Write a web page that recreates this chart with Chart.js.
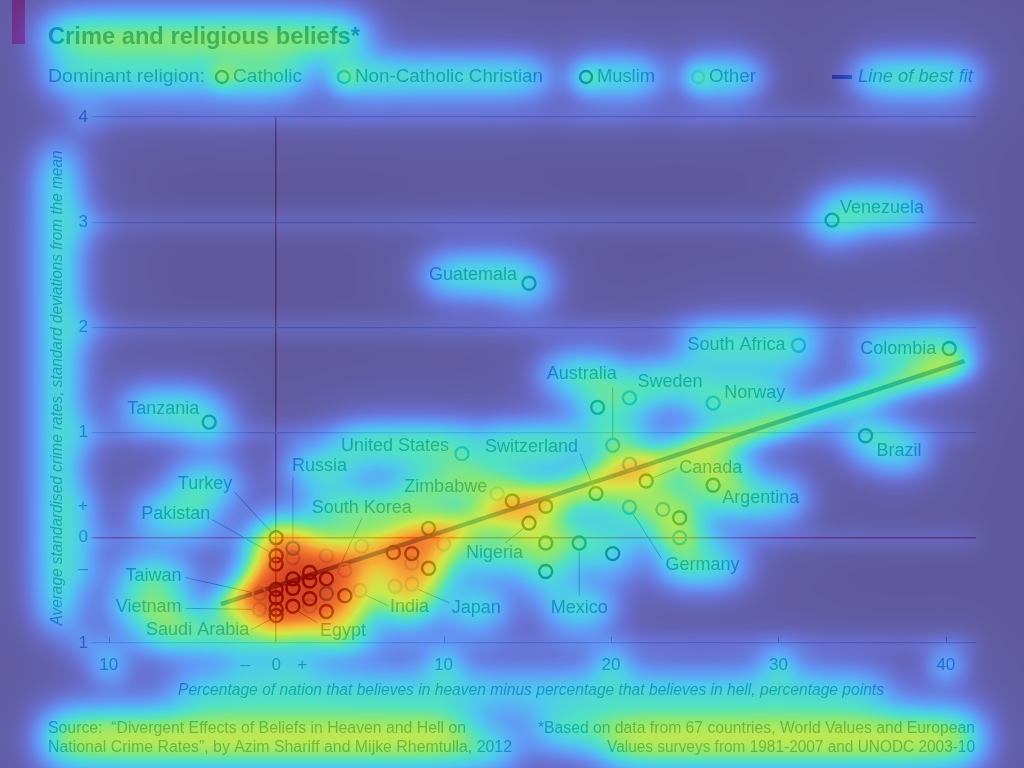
<!DOCTYPE html>
<html><head><meta charset="utf-8">
<script src="https://cdn.jsdelivr.net/npm/chart.js@4/dist/chart.umd.min.js"></script>
<style>html,body{margin:0;padding:0;background:#615a9d;}canvas{display:block}</style>
</head><body>
<canvas id="c" width="1024" height="768"></canvas>
<script>
// ---------------- DATA ----------------
const names = ['Venezuela','Guatemala','South Africa','Colombia','Tanzania','Australia','Sweden','Norway','Brazil','United States','Switzerland','Canada','Argentina','Zimbabwe','Turkey','Pakistan','Russia','South Korea','Taiwan','Vietnam','Saudi Arabia','Egypt','India','Japan','Nigeria','Germany','Mexico',
 '','','','','','','','','','','','','','','','','',
 '','','','','','','','','','','','','','','','',''];
const heavenMinusHell = [33.2,15.1,31.2,40.2,-4.0,20.1,21.1,26.1,35.2,11.1,19.1,22.1,26.1,13.2,0.0,0.0,1.0,4.1,-1.0,-1.0,0.0,1.0,5.0,8.1,15.1,21.1,18.1,
 19.2,21.1,14.1,16.1,23.1,24.1,24.1,16.1,20.1,16.1,10.0,9.1,7.0,8.1,8.1,9.1,7.1,
 0.0,0.0,0.0,0.0,1.0,1.0,1.0,2.0,2.0,2.0,2.0,3.0,3.0,3.0,3.0,4.1,5.1];
const crimeIndex = [3.02,2.42,1.83,1.80,1.10,0.88,1.33,1.28,0.97,0.80,0.42,0.54,0.50,0.42,0.00,-0.17,-0.10,-0.31,-0.53,-0.68,-0.74,-0.65,-0.50,-0.44,0.14,0.29,-0.05,
 1.24,0.70,0.35,0.30,0.27,0.19,0.00,-0.05,-0.15,-0.32,-0.06,0.09,-0.14,-0.15,-0.24,-0.29,-0.46,
 -0.25,-0.49,-0.57,-0.68,-0.19,-0.39,-0.48,-0.33,-0.41,-0.58,-0.65,-0.17,-0.39,-0.53,-0.70,-0.55,-0.08];
const religion = ['C','C','N','C','C','N','N','N','C','N','C','C','C','O','M','M','N','O','O','O','M','M','O','O','M','N','C',
 'C','N','C','C','N','C','N','C','M','M','O','C','M','M','O','M','O',
 'M','M','M','M','O','M','M','M','M','M','O','O','M','N','M','M','O'];
const religionCodes = ['C','N','M','O'];
const religionNames = ['Catholic','Non-Catholic Christian','Muslim','Other'];
const fitX = [-3.3, 41.1];
const fitY = [-0.63, 1.68];
const xGridVals = [0];
const yGridVals = [-1,0,1,2,3,4];
const xTickVals = [-10,-1.85,0,1.55,10,20,30,40];
const xTickLabels = ['10','–','0','+','10','20','30','40'];
const xTickMarks = [-10,10,20,30,40];
const yTickVals = [4,3,2,1,0.3,0,-0.3,-1];
const yTickLabels = ['4','3','2','1','+','0','–','1'];

// ---------------- STYLE ----------------
const FONT = '"Liberation Sans", Arial, sans-serif';
const TEXT = '#22507a';
const TITLE = '#1d4466';
const COLORS = {C:'#0c5e50', N:'#2b95d2', M:'#172a48', O:'#a3bccf'};
const FITC = '#1e66b4';
const RED = '#e0453c';
const GRID = '#98acbd';
const BGc = [225,232,236];
const A = 0.68;

// label layout (pixel offsets from the point, style only)
const labelLayout = {
 'Venezuela':{dx:8,dy:-12,al:'left'},
 'Guatemala':{dx:-12,dy:-8,al:'right'},
 'South Africa':{dx:-13,dy:0,al:'right'},
 'Colombia':{dx:-13,dy:1,al:'right'},
 'Tanzania':{dx:-10,dy:-13,al:'right'},
 'Australia':{dx:-31,dy:-71,al:'center',ld:[0,-58,0,-8]},
 'Sweden':{dx:8,dy:-16,al:'left'},
 'Norway':{dx:11,dy:-10,al:'left'},
 'Brazil':{dx:11,dy:15,al:'left'},
 'United States':{dx:-13,dy:-8,al:'right'},
 'Switzerland':{dx:-18,dy:-47,al:'right',ld:[-16,-40,-3,-8]},
 'Canada':{dx:33,dy:-13,al:'left',ld:[7,-3,30,-13]},
 'Argentina':{dx:9,dy:13,al:'left'},
 'Zimbabwe':{dx:-10,dy:-7,al:'right'},
 'Turkey':{dx:-44,dy:-54,al:'right',ld:[-42,-46,-5,-6]},
 'Pakistan':{dx:-66,dy:-42,al:'right',ld:[-64,-36,-7,-4]},
 'Russia':{dx:-1,dy:-82,al:'left',ld:[0,-71,0,-8]},
 'South Korea':{dx:-33,dy:-62,al:'left',ld:[17,-52,-4,-6]},
 'Taiwan':{dx:-78,dy:-18,al:'right',ld:[-74,-16,-7,-1]},
 'Vietnam':{dx:-78,dy:-2,al:'right',ld:[-74,-1,-8,0]},
 'Saudi Arabia':{dx:-27,dy:14,al:'right',ld:[-25,14,-6,4]},
 'Egypt':{dx:27,dy:25,al:'left',ld:[25,17,5,5]},
 'India':{dx:30,dy:17,al:'left',ld:[28,15,6,5]},
 'Japan':{dx:40,dy:24,al:'left',ld:[38,19,6,5]},
 'Nigeria':{dx:-6,dy:30,al:'right',ld:[-24,20,-5,5]},
 'Germany':{dx:36,dy:58,al:'left',ld:[4,7,32,51]},
 'Mexico':{dx:0,dy:65,al:'center',ld:[0,8,0,53]}
};

let heatSrc = [];
function addHeat(s, halo){
  heatSrc.push(s);
  if (halo) heatSrc.push({x0:s.x0, x1:s.x1, y0:s.y0, y1:s.y1, w:s.w*halo, sg:s.sg*2.2});
}
function txt(ctx, s, x, y, o){
  ctx.save();
  ctx.font = `${o.style||'normal'} ${o.weight||'normal'} ${o.size}px ${FONT}`;
  ctx.fillStyle = o.color || TEXT;
  const al = o.align || 'left';
  ctx.textAlign = al;
  ctx.textBaseline = 'middle';
  let w = ctx.measureText(s).width;
  ctx.translate(x, y);
  if (o.rot) ctx.rotate(o.rot);
  if (o.fitW) { ctx.scale(o.fitW / w, 1); }
  ctx.fillText(s, 0, 0);
  ctx.restore();
  if (o.fitW) w = o.fitW;
  const hh = o.size * 0.38;
  let x0 = al === 'left' ? x : al === 'right' ? x - w : x - w/2;
  const hw = o.halo === undefined ? 0.35 : o.halo;
  if (o.rot) {
    addHeat({x0:x-hh, x1:x+hh, y0:y-w/2, y1:y+w/2, w:o.heat||2, sg:o.sg||17}, hw);
  } else {
    addHeat({x0:x0, x1:x0+w, y0:y-hh, y1:y+hh, w:o.heat||2, sg:o.sg||17}, hw);
  }
}

const bgPlugin = {
  id:'bgfill',
  beforeDraw(chart){
    const c = chart.ctx;
    c.save();
    c.fillStyle = `rgb(${BGc.join(',')})`;
    c.fillRect(0,0,chart.width,chart.height);
    c.restore();
    heatSrc = [];
  }
};

const annotPlugin = {
  id:'annot',
  afterDatasetsDraw(chart){
    const c = chart.ctx, xs = chart.scales.x, ys = chart.scales.y, ca = chart.chartArea;
    // Economist tag
    c.fillStyle = '#ff5a8c';
    c.fillRect(12, 0, 13, 44);
    // title
    txt(c, 'Crime and religious beliefs*', 48, 37, {size:24, weight:'bold', color:TITLE, fitW:312, heat:1.7, sg:18});
    // legend
    txt(c, 'Dominant religion:', 48, 77, {size:18, fitW:157, heat:1.15, sg:16});
    const legX = [222, 344, 586, 698];
    const legTW = [69, 188, 58, 47];
    religionCodes.forEach((code, i) => {
      c.save();
      c.beginPath(); c.arc(legX[i], 77, 6, 0, Math.PI*2);
      c.strokeStyle = COLORS[code]; c.lineWidth = 2.4; c.stroke();
      c.restore();
      txt(c, religionNames[i], legX[i] + 11, 77, {size:18, fitW:legTW[i], heat:1.45, sg:16});
    });
    c.save();
    c.strokeStyle = FITC; c.lineWidth = 4; c.beginPath(); c.moveTo(832,77); c.lineTo(852,77); c.stroke();
    c.restore();
    txt(c, 'Line of best fit', 858, 77, {size:18, style:'italic', fitW:115, heat:1.55, sg:16});
    // y tick labels
    yTickVals.forEach((v, i) => {
      txt(c, yTickLabels[i], ca.left - 4, ys.getPixelForValue(v), {size:17, align:'right', heat:1.4, sg:14});
    });
    // x tick labels and tick marks
    xTickVals.forEach((v, i) => {
      txt(c, xTickLabels[i], xs.getPixelForValue(v), ca.bottom + 22, {size:17, align:'center', heat:1.5, sg:14});
    });
    c.save();
    c.strokeStyle = '#6f8293'; c.lineWidth = 1;
    xTickMarks.forEach(v => {
      const px = Math.round(xs.getPixelForValue(v)) + 0.5;
      c.beginPath(); c.moveTo(px, ca.bottom); c.lineTo(px, ca.bottom - 6); c.stroke();
    });
    c.restore();
    // axis titles
    txt(c, 'Percentage of nation that believes in heaven minus percentage that believes in hell, percentage points', 531, 691, {size:16, style:'italic', align:'center', fitW:706, heat:1.3, sg:18});
    txt(c, 'Average standardised crime rates, standard deviations from the mean', 58, 388, {size:16, style:'italic', align:'center', fitW:475, rot:-Math.PI/2, heat:1.75, sg:18});
    // footers
    txt(c, 'Source:  \u201CDivergent Effects of Beliefs in Heaven and Hell on', 48, 729, {size:16, fitW:418, heat:1.85, sg:18});
    txt(c, 'National Crime Rates\u201D, by Azim Shariff and Mijke Rhemtulla, 2012', 48, 748, {size:16, fitW:464, heat:1.85, sg:18});
    txt(c, '*Based on data from 67 countries, World Values and European', 975, 729, {size:16, align:'right', fitW:437, heat:1.85, sg:18});
    txt(c, 'Values surveys from 1981-2007 and UNODC 2003-10', 975, 748, {size:16, align:'right', fitW:368, heat:1.85, sg:18});
    // country labels
    names.forEach((n, i) => {
      if (!n) return;
      const L = labelLayout[n];
      const px = xs.getPixelForValue(heavenMinusHell[i]);
      const py = ys.getPixelForValue(crimeIndex[i]);
      if (L.ld) {
        c.save();
        c.strokeStyle = '#5d6e80'; c.lineWidth = 1;
        c.beginPath(); c.moveTo(px + L.ld[0], py + L.ld[1]); c.lineTo(px + L.ld[2], py + L.ld[3]); c.stroke();
        c.restore();
      }
      txt(c, n, px + L.dx, py + L.dy, {size:18, align:L.al, heat:1.6, sg:17});
    });
    // gridline glow sources
    yGridVals.forEach(v => {
      const py = ys.getPixelForValue(v);
      addHeat({x0:ca.left, x1:ca.right, y0:py-5, y1:py+5, w:0.16, sg:9}, 0);
    });
    // point sources
    chart.data.datasets.forEach((ds, di) => {
      const meta = chart.getDatasetMeta(di);
      if (ds.isFit) {
        const p0 = meta.data[0], p1 = meta.data[meta.data.length-1];
        const len = Math.hypot(p1.x-p0.x, p1.y-p0.y);
        const n = Math.ceil(len/5);
        for (let k=0;k<=n;k++){
          const t=k/n;
          const x=p0.x+(p1.x-p0.x)*t, y=p0.y+(p1.y-p0.y)*t;
          addHeat({x0:x,x1:x,y0:y,y1:y,w:0.09,sg:11}, 0.1);
        }
      } else {
        meta.data.forEach(el => addHeat({x0:el.x,x1:el.x,y0:el.y,y1:el.y,w:0.34,sg:20}, 0.03));
      }
    });
    legX.forEach(x => addHeat({x0:x,x1:x,y0:77,y1:77,w:0.35,sg:12}, 0.3));
  }
};

function erf(x){
  const s = x < 0 ? -1 : 1; x = Math.abs(x);
  const t = 1/(1+0.3275911*x);
  const y = 1 - (((((1.061405429*t - 1.453152027)*t) + 1.421413741)*t - 0.284496736)*t + 0.254829592)*t*Math.exp(-x*x);
  return s*y;
}

const stops = [[0,[97,89,157]],[0.12,[104,112,208]],[0.25,[98,152,246]],[0.38,[78,200,238]],[0.48,[80,225,195]],[0.58,[140,232,112]],[0.68,[208,232,72]],[0.78,[245,185,55]],[0.88,[240,112,45]],[1,[205,55,35]]];
const lut = [];
for (let i=0;i<256;i++){
  const t = i/255;
  let k = 0; while (k < stops.length-2 && t > stops[k+1][0]) k++;
  const a = stops[k], b = stops[k+1];
  const f = (t - a[0])/(b[0]-a[0]);
  const obs = [0,1,2].map(ch => a[1][ch] + (b[1][ch]-a[1][ch])*f);
  lut.push(obs.map((v,ch) => (v - (1-A)*BGc[ch])/A));
}

const heatPlugin = {
  id:'heat',
  afterDraw(chart){
    const c = chart.ctx, W = chart.canvas.width, H = chart.canvas.height;
    const G = 4, gw = Math.ceil(W/G)+2, gh = Math.ceil(H/G)+2;
    const field = new Float32Array(gw*gh);
    const S2 = Math.SQRT2;
    const prof = (x,a,b,sg) => (b-a < 0.5) ? Math.exp(-((x-a)*(x-a))/(2*sg*sg)) : 0.5*(erf((b-x)/(sg*S2)) - erf((a-x)/(sg*S2)));
    heatSrc.forEach(s => {
      const r = 3.2*s.sg;
      const i0 = Math.max(0, Math.floor((s.x0-r)/G)), i1 = Math.min(gw-1, Math.ceil((s.x1+r)/G));
      const j0 = Math.max(0, Math.floor((s.y0-r)/G)), j1 = Math.min(gh-1, Math.ceil((s.y1+r)/G));
      const gx = [];
      for (let i=i0;i<=i1;i++) gx.push(prof(i*G, s.x0, s.x1, s.sg));
      for (let j=j0;j<=j1;j++){
        const gy = s.w*prof(j*G, s.y0, s.y1, s.sg);
        if (gy < 1e-4) continue;
        const row = j*gw;
        for (let i=i0;i<=i1;i++) field[row+i] += gy*gx[i-i0];
      }
    });
    const img = c.getImageData(0,0,W,H), d = img.data;
    for (let y=0;y<H;y++){
      const fy = y/G, j = Math.floor(fy), ty = fy - j;
      for (let x=0;x<W;x++){
        const fx = x/G, i = Math.floor(fx), tx = fx - i;
        const h = (field[j*gw+i]*(1-tx) + field[j*gw+i+1]*tx)*(1-ty) + (field[(j+1)*gw+i]*(1-tx) + field[(j+1)*gw+i+1]*tx)*ty;
        const t = 1 - Math.exp(-h);
        const cm = lut[Math.min(255, Math.round(t*255))];
        const p = (y*W + x)*4;
        d[p]   = A*cm[0] + (1-A)*d[p];
        d[p+1] = A*cm[1] + (1-A)*d[p+1];
        d[p+2] = A*cm[2] + (1-A)*d[p+2];
        d[p+3] = 255;
      }
    }
    c.putImageData(img,0,0);
  }
};

const datasets = religionCodes.map((code, ci) => ({
  label: religionNames[ci],
  data: heavenMinusHell.map((x, i) => ({x, y: crimeIndex[i], r: religion[i]})).filter(p => p.r === code),
  borderColor: COLORS[code],
  backgroundColor: 'rgba(0,0,0,0)',
  pointRadius: 6.5,
  pointHoverRadius: 6.5,
  pointBorderWidth: 2.4,
  showLine: false,
  order: 1
}));
datasets.push({
  type: 'line', label: 'Line of best fit', isFit: true,
  data: fitX.map((x, i) => ({x, y: fitY[i]})),
  borderColor: FITC, borderWidth: 4.5, pointRadius: 0, fill: false, order: 5
});

new Chart(document.getElementById('c'), {
  type: 'scatter',
  data: {datasets},
  options: {
    responsive: false, animation: false, events: [],
    layout: {padding: {left: 92, right: 48, top: 117, bottom: 125}},
    plugins: {legend: {display: false}, tooltip: {enabled: false}, title: {display: false}},
    scales: {
      x: {type: 'linear', min: -11, max: 41.8,
          afterBuildTicks: s => { s.ticks = xGridVals.map(v => ({value: v})); },
          ticks: {display: false},
          grid: {drawTicks: false, color: RED, lineWidth: 1.5},
          border: {display: false}},
      y: {type: 'linear', min: -1, max: 4,
          afterBuildTicks: s => { s.ticks = yGridVals.map(v => ({value: v})); },
          ticks: {display: false},
          grid: {drawTicks: false, color: c => (c.tick && c.tick.value === 0) ? RED : GRID, lineWidth: c => (c.tick && c.tick.value === 0) ? 1.5 : 1.2},
          border: {display: false}}
    }
  },
  plugins: [bgPlugin, annotPlugin, heatPlugin]
});
</script>
</body></html>
